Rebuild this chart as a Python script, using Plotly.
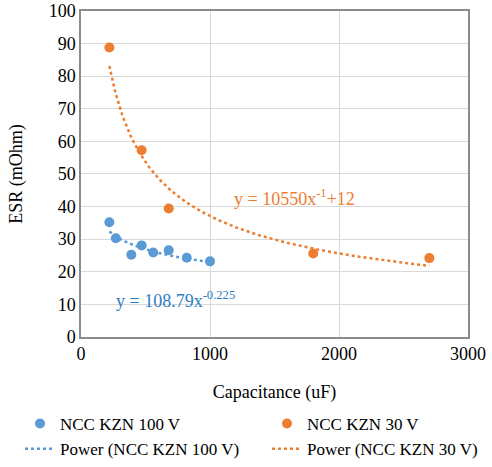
import numpy as np
import plotly.graph_objects as go

# Measured ESR vs capacitance for two capacitor series
cap_100v = [220, 270, 390, 470, 560, 680, 820, 1000]
esr_100v = [35.2, 30.3, 25.2, 28.1, 25.9, 26.6, 24.3, 23.2]

cap_30v = [220, 470, 680, 1800, 2700]
esr_30v = [88.8, 57.3, 39.4, 25.6, 24.2]

# Power trendline for the 100 V series (coefficients as printed on the chart)
coef_100v = 108.79
exp_100v = -0.225

x_ticks = [0, 1000, 2000, 3000]
y_ticks = list(range(0, 101, 10))

BLUE = "#5B9BD5"
ORANGE = "#ED7D31"
FONT = "Liberation Serif"

# Trendline curves
xs_100 = np.linspace(min(cap_100v), max(cap_100v), 200)
ys_100 = coef_100v * xs_100 ** exp_100v

# Least-squares power fit (log-log) for the 30 V series
b30, ln_a30 = np.polyfit(np.log(cap_30v), np.log(esr_30v), 1)
xs_30 = np.linspace(min(cap_30v), max(cap_30v), 300)
ys_30 = np.exp(ln_a30) * xs_30 ** b30

fig = go.Figure()
fig.add_trace(go.Scatter(x=cap_100v, y=esr_100v, mode="markers", name="NCC KZN 100 V",
                         marker=dict(color=BLUE, size=10), legend="legend"))
fig.add_trace(go.Scatter(x=cap_30v, y=esr_30v, mode="markers", name="NCC KZN 30 V",
                         marker=dict(color=ORANGE, size=10), legend="legend2"))
fig.add_trace(go.Scatter(x=xs_100, y=ys_100, mode="lines", name="Power (NCC KZN 100 V)",
                         line=dict(color=BLUE, width=2.5, dash="dot"), legend="legend"))
fig.add_trace(go.Scatter(x=xs_30, y=ys_30, mode="lines", name="Power (NCC KZN 30 V)",
                         line=dict(color=ORANGE, width=2.5, dash="dot"), legend="legend2"))

fig.add_annotation(x=1170, y=42.8, xanchor="left", yanchor="middle", showarrow=False,
                   text="y = 10550x<sup>-1</sup>+12",
                   font=dict(family=FONT, size=18, color=ORANGE))
fig.add_annotation(x=256, y=11.6, xanchor="left", yanchor="middle", showarrow=False,
                   text="y = 108.79x<sup>-0.225</sup>",
                   font=dict(family=FONT, size=18, color="#2E7DC4"))

axis_common = dict(showgrid=True, gridcolor="#D9D9D9", gridwidth=1,
                   showline=True, linecolor="#8C8C8C", linewidth=1.5, mirror=True,
                   zeroline=False, ticks="", automargin=False,
                   tickfont=dict(family=FONT, size=18, color="black"))

# Legends sit in the bottom margin; a zero top margin keeps the auto-margin
# padding at zero, and the y-axis domain supplies the gap above the plot.
legend_common = dict(orientation="v", yanchor="top", y=-0.204,
                     xanchor="left", tracegroupgap=0,
                     font=dict(family=FONT, size=17, color="black"),
                     bgcolor="rgba(0,0,0,0)")

fig.update_layout(
    width=492, height=467,
    margin=dict(l=81, r=24, t=0, b=129),
    paper_bgcolor="white", plot_bgcolor="white",
    font=dict(family=FONT, color="black"),
    xaxis=dict(range=[0, 3000], tickvals=x_ticks,
               title=dict(text="Capacitance (uF)", font=dict(family=FONT, size=18), standoff=22),
               **axis_common),
    yaxis=dict(range=[0, 100], tickvals=y_ticks, domain=[0, 0.9675],
               title=dict(text="ESR (mOhm)", font=dict(family=FONT, size=18), standoff=21),
               **axis_common),
    showlegend=True,
    legend=dict(x=-0.1576, **legend_common),
    legend2=dict(x=0.4806, **legend_common),
)

fig.write_html("out.html")
